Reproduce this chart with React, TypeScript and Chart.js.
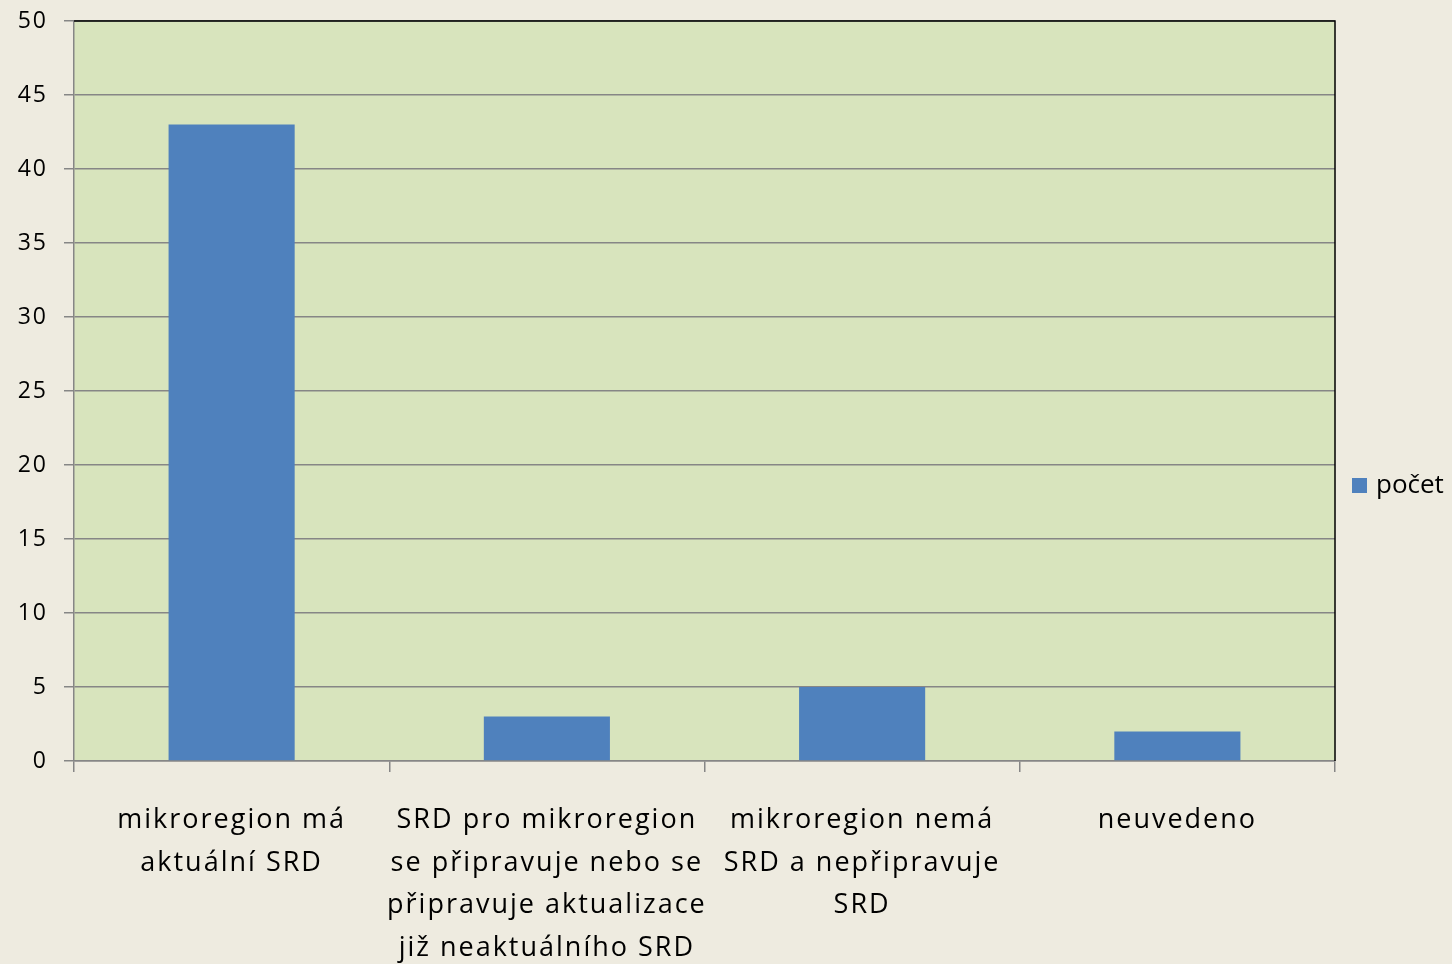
import React, { useEffect, useRef } from "react";
import { Chart, registerables } from "chart.js";

Chart.register(...registerables);

const categories: string[][] = [
  ["mikroregion má", "aktuální SRD"],
  ["SRD pro mikroregion", "se připravuje nebo se", "připravuje aktualizace", "již neaktuálního SRD"],
  ["mikroregion nemá", "SRD a nepřipravuje", "SRD"],
  ["neuvedeno"],
];
const seriesName = "počet";
const values = [43, 3, 5, 2];
const yMin = 0;
const yMax = 50;
const yStep = 5;

const FONT = "'Open Sans', 'Noto Sans', sans-serif";
const BG = "#EEEBE0";
const PLOT_BG = "#D8E4BD";
const BAR = "#4F81BD";
const GRID = "#868686";

const plotPlugin = {
  id: "plotDecor",
  beforeDraw(chart: any) {
    const { ctx, chartArea: a } = chart;
    ctx.fillStyle = BG;
    ctx.fillRect(0, 0, chart.width, chart.height);
    ctx.fillStyle = PLOT_BG;
    ctx.fillRect(a.left, a.top, a.right - a.left, a.bottom - a.top);
    (ctx as any).letterSpacing = "2px";
  },
  afterDraw(chart: any) {
    const { ctx, chartArea: a } = chart;
    (ctx as any).letterSpacing = "0px";
    ctx.save();
    ctx.strokeStyle = "#000";
    ctx.lineWidth = 1.5;
    ctx.beginPath();
    ctx.moveTo(a.left, a.top);
    ctx.lineTo(a.right, a.top);
    ctx.lineTo(a.right, a.bottom);
    ctx.stroke();
    // legend
    const cy = 486;
    ctx.fillStyle = BAR;
    ctx.fillRect(a.right + 17, cy - 8, 15, 15);
    ctx.fillStyle = "#000";
    ctx.font = `26px ${FONT}`;
    ctx.textBaseline = "middle";
    ctx.textAlign = "left";
    ctx.fillText(seriesName, a.right + 41, cy);
    ctx.restore();
  },
};

export default function App() {
  const ref = useRef<HTMLCanvasElement>(null);
  useEffect(() => {
    if (!ref.current) return;
    const chart = new Chart(ref.current, {
      type: "bar",
      data: {
        labels: categories,
        datasets: [
          {
            label: seriesName,
            data: values,
            backgroundColor: BAR,
            borderWidth: 0,
            barPercentage: 0.4,
            categoryPercentage: 1,
          },
        ],
      },
      options: {
        responsive: false,
        animation: false,
        layout: { autoPadding: false, padding: { top: 21, right: 117, left: 0, bottom: 0 } },
        plugins: { legend: { display: false }, tooltip: { enabled: false } },
        scales: {
          x: {
            offset: true,
            grid: {
              offset: true,
              drawOnChartArea: false,
              drawTicks: true,
              tickLength: 11,
              color: GRID,
              lineWidth: 1.5,
            },
            border: { display: true, color: GRID, width: 1.5 },
            ticks: {
              color: "#000",
              font: { family: FONT, size: 27, lineHeight: 1.58 },
              padding: 27,
              maxRotation: 0,
              autoSkip: false,
            },
            afterFit(scale: any) {
              scale.height = 964 - 761;
              scale.paddingLeft = 0;
              scale.paddingRight = 0;
            },
          },
          y: {
            min: yMin,
            max: yMax,
            grid: { color: GRID, lineWidth: 1.5, tickLength: 10, drawTicks: true },
            border: { display: true, color: GRID, width: 1.5 },
            ticks: {
              stepSize: yStep,
              color: "#000",
              font: { family: FONT, size: 23 },
              padding: 16,
            },
            afterFit(scale: any) {
              scale.width = 74;
              scale.paddingTop = 0;
              scale.paddingBottom = 0;
            },
          },
        },
      },
      plugins: [plotPlugin],
    });
    return () => chart.destroy();
  }, []);
  return (
    <div style={{ position: "fixed", left: 0, top: 0, width: 1452, height: 964, background: BG }}>
      <canvas ref={ref} width={1452} height={964} />
    </div>
  );
}
